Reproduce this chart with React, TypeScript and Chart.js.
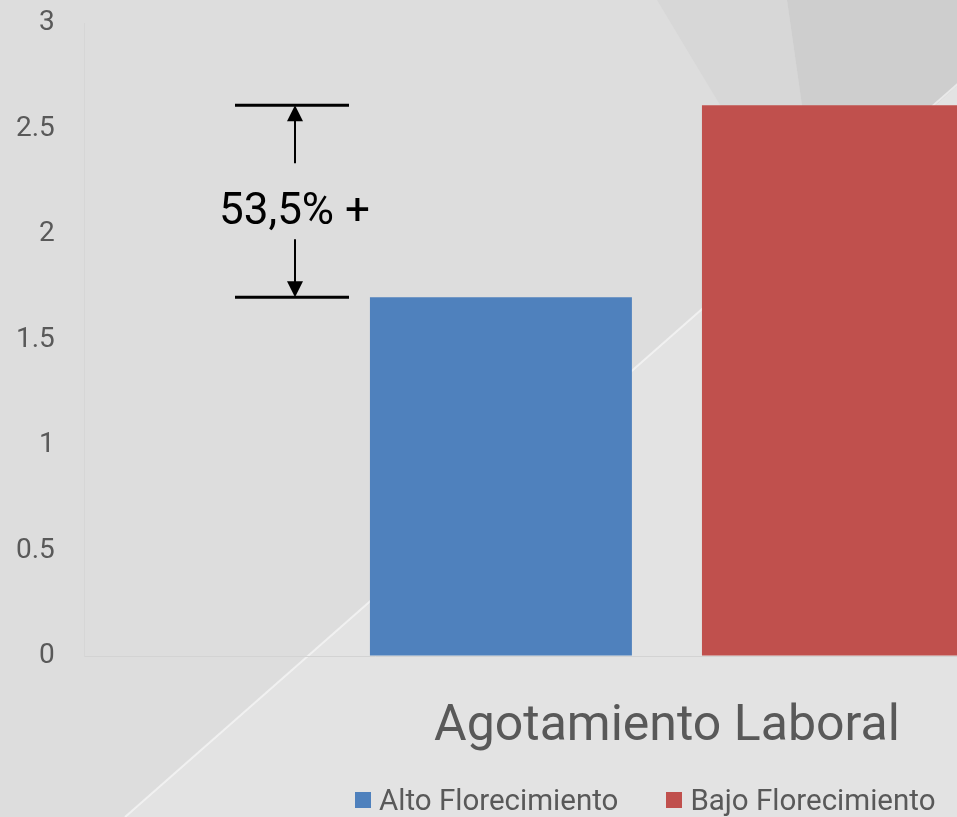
import React, { useEffect, useRef } from "react";
import { Chart, registerables } from "chart.js";

Chart.register(...registerables);

const categories = ["Agotamiento Laboral"];
const seriesNames = ["Alto Florecimiento", "Bajo Florecimiento"];
const altoValues = [1.7];
const bajoValues = [2.61];
const seriesColors = ["#4f81bd", "#c0504d"];
const yTicks = [0, 0.5, 1, 1.5, 2, 2.5, 3];
const annotationLabel = "53,5% +";

const FONT = "Roboto, 'Noto Sans', sans-serif";
const TEXT = "#595959";

const CANVAS_W = 1288;
const CANVAS_H = 817;

const backgroundPlugin = {
  id: "bgShapes",
  beforeDraw(chart: any) {
    const { ctx, width, height } = chart;
    ctx.save();
    ctx.fillStyle = "#dddddd";
    ctx.fillRect(0, 0, width, height);
    ctx.fillStyle = "#e3e3e3";
    ctx.beginPath();
    ctx.moveTo(125, height);
    ctx.lineTo(1053, 0);
    ctx.lineTo(width, 0);
    ctx.lineTo(width, height);
    ctx.closePath();
    ctx.fill();
    ctx.fillStyle = "#d7d7d7";
    ctx.beginPath();
    ctx.moveTo(657, 0);
    ctx.lineTo(787, 0);
    ctx.lineTo(817, 211);
    ctx.lineTo(794, 228);
    ctx.closePath();
    ctx.fill();
    ctx.fillStyle = "#cecece";
    ctx.beginPath();
    ctx.moveTo(787, 0);
    ctx.lineTo(1053, 0);
    ctx.lineTo(817, 211);
    ctx.closePath();
    ctx.fill();
    ctx.strokeStyle = "rgba(255,255,255,0.55)";
    ctx.lineWidth = 2;
    ctx.beginPath();
    ctx.moveTo(125, height);
    ctx.lineTo(1053, 0);
    ctx.stroke();
    ctx.restore();
  },
};

const annotationPlugin = {
  id: "gapAnnotation",
  afterDatasetsDraw(chart: any) {
    const { ctx } = chart;
    const y = chart.scales.y;
    const yTop = y.getPixelForValue(bajoValues[0]);
    const yBot = y.getPixelForValue(altoValues[0]);
    const x0 = 235;
    const x1 = 349;
    const ax = 295;
    const mid = (yTop + yBot) / 2;
    ctx.save();
    ctx.strokeStyle = "#000";
    ctx.fillStyle = "#000";
    ctx.lineWidth = 3;
    ctx.beginPath();
    ctx.moveTo(x0, yTop);
    ctx.lineTo(x1, yTop);
    ctx.moveTo(x0, yBot);
    ctx.lineTo(x1, yBot);
    ctx.stroke();
    ctx.lineWidth = 2;
    ctx.beginPath();
    ctx.moveTo(ax, mid - 38);
    ctx.lineTo(ax, yTop + 14);
    ctx.moveTo(ax, mid + 38);
    ctx.lineTo(ax, yBot - 14);
    ctx.stroke();
    ctx.beginPath();
    ctx.moveTo(ax, yTop);
    ctx.lineTo(ax - 8, yTop + 16);
    ctx.lineTo(ax + 8, yTop + 16);
    ctx.closePath();
    ctx.fill();
    ctx.beginPath();
    ctx.moveTo(ax, yBot);
    ctx.lineTo(ax - 8, yBot - 16);
    ctx.lineTo(ax + 8, yBot - 16);
    ctx.closePath();
    ctx.fill();
    ctx.font = `44px ${FONT}`;
    ctx.textAlign = "center";
    ctx.textBaseline = "alphabetic";
    ctx.fillText(annotationLabel, 294.5, mid + 22.5);
    ctx.restore();
  },
};

export default function App() {
  const canvasRef = useRef<HTMLCanvasElement | null>(null);

  useEffect(() => {
    const canvas = canvasRef.current;
    if (!canvas) return;
    const chart = new Chart(canvas, {
      type: "bar",
      data: {
        labels: categories,
        datasets: [
          {
            label: seriesNames[0],
            data: altoValues,
            backgroundColor: seriesColors[0],
            borderWidth: 0,
          },
          {
            label: seriesNames[1],
            data: bajoValues,
            backgroundColor: seriesColors[1],
            borderWidth: 0,
          },
        ],
      },
      options: {
        responsive: false,
        animation: false,
        devicePixelRatio: 1,
        layout: { padding: { left: 12, right: 39, top: 23, bottom: 19 } },
        datasets: {
          bar: { categoryPercentage: 0.5704, barPercentage: 0.789 },
        },
        plugins: {
          tooltip: { enabled: false },
          legend: { display: false },
        },
        scales: {
          x: {
            grid: { display: false, drawTicks: false },
            border: { display: true, color: "#d3d3d3", width: 1 },
            ticks: {
              color: TEXT,
              font: { family: FONT, size: 50 },
              padding: 41,
            },
          },
          y: {
            min: 0,
            max: 3,
            afterBuildTicks: (scale: any) => {
              scale.ticks = yTicks.map((v) => ({ value: v }));
            },
            grid: {
              display: true,
              drawOnChartArea: false,
              drawTicks: true,
              tickLength: 26,
              tickColor: "rgba(0,0,0,0)",
            },
            border: { display: true, color: "#d6d6d6", width: 1 },
            ticks: {
              color: TEXT,
              font: { family: FONT, size: 28 },
              padding: 4,
              callback: (v: any) => String(v),
            },
          },
        },
      },
      plugins: [backgroundPlugin, annotationPlugin],
    });
    return () => chart.destroy();
  }, []);

  const legendItem = (name: string, color: string, marginLeft: number) => (
    <div
      key={name}
      style={{ display: "flex", alignItems: "center", marginLeft }}
    >
      <span
        style={{
          display: "inline-block",
          width: 16,
          height: 16,
          background: color,
          marginRight: 8,
        }}
      />
      <span
        style={{
          fontFamily: FONT,
          fontSize: 29.5,
          lineHeight: "34px",
          color: TEXT,
          whiteSpace: "nowrap",
        }}
      >
        {name}
      </span>
    </div>
  );

  return (
    <div
      style={{
        position: "fixed",
        left: 0,
        top: 0,
        width: 957,
        height: 817,
        overflow: "hidden",
        background: "#dddddd",
      }}
    >
      <canvas
        ref={canvasRef}
        width={CANVAS_W}
        height={CANVAS_H}
        style={{ display: "block", width: CANVAS_W, height: CANVAS_H }}
      />
      <div
        style={{
          position: "absolute",
          left: 355,
          top: 783,
          height: 34,
          display: "flex",
          alignItems: "center",
        }}
      >
        {legendItem(seriesNames[0], seriesColors[0], 0)}
        {legendItem(seriesNames[1], seriesColors[1], 48)}
      </div>
    </div>
  );
}
